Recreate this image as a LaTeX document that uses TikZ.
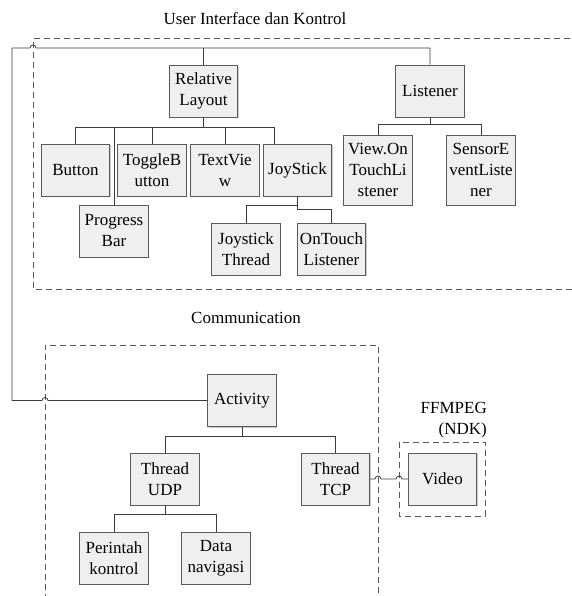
\documentclass[tikz,border=0pt]{standalone}
\usepackage{fontspec}
\setmainfont{Liberation Serif}
\usepackage{tikz}
\usetikzlibrary{positioning,calc,shadows}
\definecolor{Edge}{HTML}{5A5A5A}
\definecolor{Wire}{HTML}{3C3C3C}
\definecolor{BoxFill}{HTML}{EFEFEF}

\begin{document}
\begin{tikzpicture}[x=1pt, y=-1pt,
    every node/.style={font=\fontsize{17}{21}\selectfont},
    box/.style={rectangle, draw=Edge, line width=0.9pt, fill=BoxFill, minimum width=68.5pt, minimum height=52pt, inner sep=0pt, align=center,
      drop shadow={shadow xshift=1.2pt, shadow yshift=-1.2pt, opacity=0.35, fill=black!60}},
    tallbox/.style={box, minimum height=70pt},
    link/.style={draw=Wire, line width=0.8pt},
    group/.style={draw=black!65, line width=1pt, dash pattern=on 6pt off 4pt}]
  \useasboundingbox (0,0) rectangle (571,596);
  % groups
  \draw[group] (580,39) -- (33,39) -- (33,289) -- (580,289);
  \draw[group] (45,600) -- (45,345) -- (378,345) -- (378,600);
  \draw[group] (399,442) rectangle (485,516);
  \node (ttl1) at (255,19) {User Interface dan Kontrol};
  \node (ttl2) at (246,318) {Communication};
  \node[align=right, anchor=south east, inner sep=0pt] (ffm) at (487,438) {FFMPEG\\(NDK)};
  % user interface
  \node[box] (rl) at (203.5,91) {Relative\\Layout};
  \node[box] (lst) at (430,91) {Listener};
  \node[box] (btn) at (75.5,170) {Button};
  \node[box] (tb) at (152,170) {ToggleB\\utton};
  \node[box] (tv) at (225,170) {TextVie\\w};
  \node[box] (js) at (297.5,170) {JoyStick};
  \node[box] (pb) at (114,231) {Progress\\Bar};
  \node[box] (jt) at (246,249) {Joystick\\Thread};
  \node[box] (ot) at (331.5,249) {OnTouch\\Listener};
  \node[tallbox] (vl) at (378,170) {View.On\\TouchLi\\stener};
  \node[tallbox] (se) at (481,170) {SensorE\\ventListe\\ner};
  % communication
  \node[box] (act) at (242,400.5) {Activity};
  \node[box] (udp) at (165,479) {Thread\\UDP};
  \node[box] (tcp) at (335.5,479) {Thread\\TCP};
  \node[box] (pk) at (114,558) {Perintah\\kontrol};
  \node[box] (dn) at (216,558) {Data\\navigasi};
  \node[box] (vid) at (442.5,479) {Video};
  % tree links
  \draw[link] (rl.south) -- ++(0,10) coordinate (rlbus);
  \foreach \c in {btn,tb,tv,pb} {\draw[link] (rlbus) -| (\c.north);}
  \draw[link] (rlbus) -| ([xshift=-23.5pt]js.north);
  \draw[link] (js.south) -- ++(0,9) -| (jt.north);
  \draw[link] (js.south) -- ++(0,13) -| (ot.north);
  \draw[link] (lst.south) -- ++(0,7) coordinate (lbus);
  \foreach \c in {vl,se} {\draw[link] (lbus) -| (\c.north);}
  \draw[link] (act.south) -- ++(0,9) coordinate (abus);
  \foreach \c in {udp,tcp} {\draw[link] (abus) -| (\c.north);}
  \draw[link] (udp.south) -- ++(0,9) coordinate (ubus);
  \foreach \c in {pk,dn} {\draw[link] (ubus) -| (\c.north);}
  % cross links with hops
  \coordinate (cb) at (12,400.5);
  \coordinate (ct) at (12,48);
  \draw[link] (act.west) -- (48,400.5) arc[start angle=0, end angle=-180, radius=3] -- (cb) -- (ct)
    -- (30,48) arc[start angle=180, end angle=360, radius=3] -- (lst.north |- ct) -- (lst.north);
  \draw[link] (rl.north) -- (rl.north |- ct);
  \draw[link] (tcp.east) -- (375,479) arc[start angle=180, end angle=360, radius=3]
    -- (396,479) arc[start angle=180, end angle=360, radius=3] -- (vid.west);
\end{tikzpicture}
\end{document}
